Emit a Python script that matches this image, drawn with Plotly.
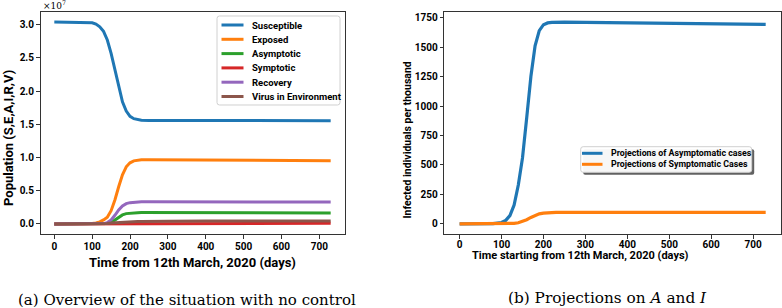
import plotly.graph_objects as go

# ---------------- data ----------------
days = [0, 50, 80, 100, 110, 120, 130, 140, 150, 160, 170, 180, 190, 200, 210, 220, 230, 250, 300, 400, 500, 600, 730]

# left panel (units of 1e7)
susceptible = [3.04, 3.04, 3.037, 3.03, 3.01, 2.97, 2.90, 2.77, 2.57, 2.32, 2.06, 1.84, 1.70, 1.62, 1.585, 1.57, 1.562, 1.558, 1.557, 1.556, 1.556, 1.555, 1.555]
exposed = [0.0, 0.0, 0.002, 0.008, 0.015, 0.03, 0.06, 0.10, 0.20, 0.36, 0.56, 0.74, 0.86, 0.92, 0.95, 0.962, 0.965, 0.966, 0.964, 0.961, 0.958, 0.955, 0.952]
asymptotic = [0.0, 0.0, 0.0, 0.0, 0.0, 0.0, 0.001, 0.005, 0.02, 0.06, 0.10, 0.135, 0.155, 0.163, 0.167, 0.169, 0.17, 0.17, 0.17, 0.169, 0.168, 0.167, 0.166]
symptotic = [0.0, 0.0, 0.0, 0.0, 0.0, 0.0, 0.001, 0.001, 0.002, 0.003, 0.005, 0.006, 0.007, 0.008, 0.009, 0.009, 0.01, 0.01, 0.01, 0.01, 0.01, 0.01, 0.01]
recovery = [0.0, 0.0, 0.0, 0.0, 0.0, 0.001, 0.005, 0.02, 0.06, 0.13, 0.21, 0.27, 0.305, 0.32, 0.328, 0.332, 0.334, 0.334, 0.334, 0.333, 0.332, 0.331, 0.33]
virus = [0.0, 0.0, 0.001, 0.002, 0.003, 0.004, 0.005, 0.008, 0.012, 0.017, 0.022, 0.026, 0.03, 0.033, 0.035, 0.036, 0.037, 0.039, 0.041, 0.042, 0.042, 0.042, 0.042]

# right panel (per thousand)
proj_asym = [0, 0.5, 3, 12, 30, 70, 160, 330, 560, 900, 1250, 1510, 1640, 1690, 1705, 1710, 1711, 1712, 1710, 1706, 1702, 1698, 1693]
proj_sym = [0, 0, 0.5, 1, 2, 3, 5, 10, 20, 36, 55, 72, 85, 92, 95, 97, 97.5, 98, 98, 98, 97.5, 97.5, 97]

left_names = ["Susceptible", "Exposed", "Asymptotic", "Symptotic", "Recovery", "Virus in Environment"]
left_series = [susceptible, exposed, asymptotic, symptotic, recovery, virus]
right_names = ["Projections of Asymptomatic cases", "Projections of Symptomatic Cases"]
right_series = [proj_asym, proj_sym]

left_yticks = [0.0, 0.5, 1.0, 1.5, 2.0, 2.5, 3.0]
right_yticks = [0, 250, 500, 750, 1000, 1250, 1500, 1750]
xticks = [0, 100, 200, 300, 400, 500, 600, 700]

colors = ["#1f77b4", "#ff7f0e", "#2ca02c", "#d62728", "#9467bd", "#8c564b"]

# ---------------- figure ----------------
W, H = 782, 308
fig = go.Figure()
for name, ys, c in zip(left_names, left_series, colors):
    fig.add_trace(go.Scatter(x=days, y=ys, name=name, mode="lines",
                             line=dict(color=c, width=3), xaxis="x", yaxis="y", showlegend=False))
for name, ys, c in zip(right_names, right_series, colors[:2]):
    fig.add_trace(go.Scatter(x=days, y=ys, name=name, mode="lines",
                             line=dict(color=c, width=3.2), xaxis="x2", yaxis="y2", showlegend=False))

sans = "Roboto"
serif = "DejaVu Serif"
tickfont = dict(family=sans, size=10, color="#000", weight="bold")
axcommon = dict(showline=True, mirror=True, linecolor="#333", linewidth=1, ticks="outside",
                ticklen=3.5, tickcolor="#333", showgrid=False, zeroline=False, tickfont=tickfont)


def px_x(p):
    return p / W


def px_y(p):
    return 1 - p / H


ydom = [px_y(234), px_y(12)]
fig.update_layout(
    width=W, height=H, margin=dict(l=0, r=0, t=0, b=0),
    paper_bgcolor="white", plot_bgcolor="white", showlegend=False,
    xaxis=dict(domain=[px_x(40.5), px_x(344.5)], range=[-36.5, 766.5], tickvals=xticks,
               anchor="y", ticklabelstandoff=-1, **axcommon),
    yaxis=dict(domain=ydom, range=[-0.152, 3.192], tickvals=left_yticks,
               tickformat=".1f", anchor="x", **axcommon),
    xaxis2=dict(domain=[px_x(444.3), px_x(781)], range=[-36.5, 766.5], tickvals=xticks,
                anchor="y2", ticklabelstandoff=-3, **axcommon),
    yaxis2=dict(domain=ydom, range=[-85.6, 1797.6], tickvals=right_yticks,
                anchor="x2", **axcommon),
)

shapes = []
ann = []


def rrect(x0, y0, x1, y1, r, fill, line_color, lw=1):
    """rounded rectangle in pixel coords -> paper path"""
    def P(x, y):
        return f"{px_x(x):.6f},{px_y(y):.6f}"
    path = (f"M {P(x0 + r, y0)} L {P(x1 - r, y0)} Q {P(x1, y0)} {P(x1, y0 + r)} "
            f"L {P(x1, y1 - r)} Q {P(x1, y1)} {P(x1 - r, y1)} "
            f"L {P(x0 + r, y1)} Q {P(x0, y1)} {P(x0, y1 - r)} "
            f"L {P(x0, y0 + r)} Q {P(x0, y0)} {P(x0 + r, y0)} Z")
    return dict(type="path", path=path, xref="paper", yref="paper", fillcolor=fill,
                line=dict(color=line_color, width=lw), layer="above")


def legend_block(names, cols, box, line_x, text_x, row_y0, row_dy, fsize, shadow=False):
    x0, y0, x1, y1 = box
    if shadow:
        shapes.append(rrect(x0 + 2.5, y0 + 2.5, x1 + 2.5, y1 + 2.5, 2, "rgba(80,80,80,0.9)", "rgba(80,80,80,0.9)", 0))
    shapes.append(rrect(x0, y0, x1, y1, 2.5, "rgba(255,255,255,0.95)", "#d0d0d0", 1))
    for i, (n, c) in enumerate(zip(names, cols)):
        yy = row_y0 + i * row_dy
        shapes.append(dict(type="line", xref="paper", yref="paper", x0=px_x(line_x[0]), x1=px_x(line_x[1]),
                           y0=px_y(yy), y1=px_y(yy), line=dict(color=c, width=3), layer="above"))
        ann.append(dict(text=n, x=px_x(text_x), y=px_y(yy), xref="paper", yref="paper",
                        xanchor="left", yanchor="middle", showarrow=False,
                        font=dict(family=sans, size=fsize, color="#000", weight="bold")))


legend_block(left_names, colors, (217, 16, 340, 105), (221.5, 243.5), 249.5, 25, 14.3, 9.5)
legend_block(right_names, colors[:2], (580.7, 146.7, 751.7, 172.3), (582, 602.5), 609, 153.3, 11, 8.8,
             shadow=True)

ann.append(dict(text="×10<sup>7</sup>", x=px_x(41), y=px_y(5), xref="paper", yref="paper",
                xanchor="left", yanchor="middle", showarrow=False,
                font=dict(family=serif, size=9, color="#000")))
ann.append(dict(text="Time from 12th March, 2020 (days)", x=px_x(192), y=px_y(262),
                xref="paper", yref="paper", xanchor="center", yanchor="middle", showarrow=False,
                font=dict(family=sans, size=13, color="#000", weight="bold")))
ann.append(dict(text="Population (S,E,A,I,R,V)", x=px_x(8), y=px_y(138),
                xref="paper", yref="paper", xanchor="center", yanchor="middle", showarrow=False,
                textangle=-90, font=dict(family=sans, size=13, color="#000", weight="bold")))
ann.append(dict(text="Time starting from 12th March, 2020 (days)", x=px_x(580), y=px_y(255.5),
                xref="paper", yref="paper", xanchor="center", yanchor="middle", showarrow=False,
                font=dict(family=sans, size=11, color="#000", weight="bold")))
ann.append(dict(text="Infected individuals per thousand", x=px_x(406.5), y=px_y(140),
                xref="paper", yref="paper", xanchor="center", yanchor="middle", showarrow=False,
                textangle=-90, font=dict(family=sans, size=10.5, color="#000", weight="bold")))
ann.append(dict(text="(a) Overview of the situation with no control", x=px_x(187), y=px_y(300),
                xref="paper", yref="paper", xanchor="center", yanchor="middle", showarrow=False,
                font=dict(family=serif, size=15, color="#000")))
ann.append(dict(text="(b) Projections on <i>A</i> and <i>I</i>", x=px_x(607), y=px_y(298),
                xref="paper", yref="paper", xanchor="center", yanchor="middle", showarrow=False,
                font=dict(family=serif, size=15.3, color="#000")))
fig.update_layout(annotations=ann, shapes=shapes)

fig.write_html("out.html", config={"displayModeBar": False},
               post_script="document.body.style.margin='0px';")
